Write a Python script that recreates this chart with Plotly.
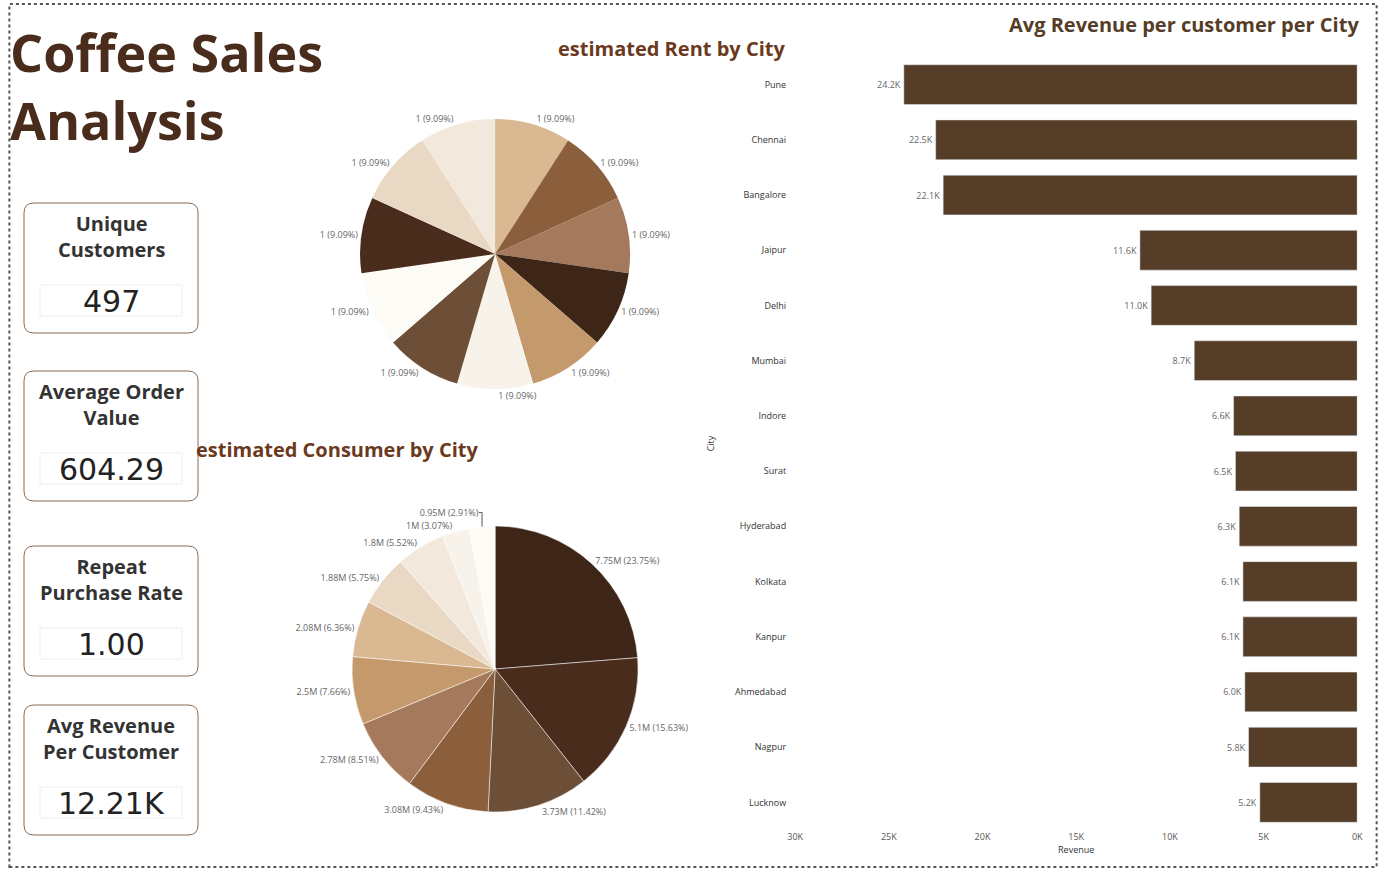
import plotly.graph_objects as go

# data
rent_labels = [f"City {i}" for i in range(1, 12)]
rent_values = [1] * 11
rent_colors = ["#D9B892", "#8B5E3C", "#A57A5C", "#3D2518", "#C49A6C", "#F7F2EA",
               "#6D4E36", "#FDFBF5", "#4A2C1D", "#E8D8C4", "#F2E8DC"]

consumer_values = [7.75, 5.1, 3.73, 3.08, 2.78, 2.5, 2.08, 1.88, 1.8, 1.0, 0.95]
consumer_text = ["7.75M (23.75%)", "5.1M (15.63%)", "3.73M (11.42%)", "3.08M (9.43%)",
                 "2.78M (8.51%)", "2.5M (7.66%)", "2.08M (6.36%)", "1.88M (5.75%)",
                 "1.8M (5.52%)", "1M (3.07%)", "0.95M (2.91%)"]
consumer_colors = ["#3D2518", "#4A2C1D", "#6D4E36", "#8B5E3C", "#A57A5C", "#C49A6C",
                   "#D9B892", "#E8D8C4", "#F2E8DC", "#F7F2EA", "#FDFBF5"]

cities = ["Pune", "Chennai", "Bangalore", "Jaipur", "Delhi", "Mumbai", "Indore", "Surat",
          "Hyderabad", "Kolkata", "Kanpur", "Ahmedabad", "Nagpur", "Lucknow"]
revenue = [24200, 22500, 22100, 11600, 11000, 8700, 6600, 6500, 6300, 6100, 6100, 6000, 5800, 5200]
revenue_text = ["24.2K", "22.5K", "22.1K", "11.6K", "11.0K", "8.7K", "6.6K", "6.5K",
                "6.3K", "6.1K", "6.1K", "6.0K", "5.8K", "5.2K"]

kpi_titles = ["Unique<br>Customers", "Average Order<br>Value", "Repeat<br>Purchase Rate",
              "Avg Revenue<br>Per Customer"]
kpi_values = ["497", "604.29", "1.00", "12.21K"]

W, H = 1384, 871
BROWN = "#553D27"


def px(x):
    # the page renders the paper slightly narrower and shifted; compensate
    return min(max((x - 8) / 0.9897 / W, 0.0), 1.0)


def py(y):
    return 1 - y / H


fig = go.Figure()

fig.add_trace(go.Pie(
    values=rent_values, labels=rent_labels, sort=False, direction="clockwise", rotation=0,
    marker=dict(colors=rent_colors), texttemplate="1 (9.09%)", textposition="outside",
    textfont=dict(size=9, color="#666666"), showlegend=False,
    domain=dict(x=[px(360), px(630)], y=[py(389), py(119)]),
))

fig.add_trace(go.Pie(
    values=consumer_values, labels=consumer_text, sort=False, direction="clockwise", rotation=0,
    marker=dict(colors=consumer_colors, line=dict(color="white", width=0.5)),
    text=consumer_text, texttemplate="%{text}", textposition="outside",
    textfont=dict(size=9, color="#666666"), showlegend=False,
    domain=dict(x=[px(352), px(638)], y=[py(812), py(526)]),
))

fig.add_trace(go.Bar(
    x=revenue, y=cities, orientation="h", marker_color=BROWN,
    text=revenue_text, textposition="outside", textfont=dict(size=9, color="#666666"),
    cliponaxis=False, width=0.72, showlegend=False,
))

fig.update_layout(
    width=W, height=H, margin=dict(l=0, r=0, t=0, b=0),
    paper_bgcolor="white", plot_bgcolor="white",
    font=dict(family="Open Sans", color="#333333"),
    xaxis=dict(domain=[px(795), px(1357)], range=[30000, 0], tickvals=[30000, 25000, 20000, 15000, 10000, 5000, 0],
               ticktext=["30K", "25K", "20K", "15K", "10K", "5K", "0K"], tickfont=dict(size=9, color="#555555"),
               showgrid=False, zeroline=False, title=dict(text="Revenue", font=dict(size=9, color="#333333"), standoff=4)),
    yaxis=dict(domain=[py(830), py(57)], autorange="reversed", showgrid=False,
               tickfont=dict(size=9, color="#333333"), ticklabelstandoff=8,
               title=dict(text="City", font=dict(size=9, color="#333333"), standoff=18)),
)

# dotted border
fig.add_shape(type="rect", xref="paper", yref="paper", x0=0.001, x1=0.999, y0=py(867), y1=py(4),
              line=dict(color="#555555", width=2, dash="dot"))

fig.add_annotation(text="<b>Coffee Sales<br>Analysis</b>", x=px(6), y=py(14), xref="paper", yref="paper",
                   xanchor="left", yanchor="top", showarrow=False, align="left",
                   font=dict(size=52, color="#4A2C1D", family="Open Sans"))
for txt, x, y in [("estimated Rent by City", 787, 48), ("estimated Consumer by City", 480, 450),
                  ("Avg Revenue per customer per City", 1361, 24)]:
    fig.add_annotation(text=f"<b>{txt}</b>", x=px(x), y=py(y), xref="paper", yref="paper",
                       xanchor="right", yanchor="middle", showarrow=False,
                       font=dict(size=20, color="#6B3A1E" if "Avg" not in txt else BROWN, family="Open Sans"))

# KPI cards
card_tops = [203, 371, 546, 705]
for title, val, top in zip(kpi_titles, kpi_values, card_tops):
    x0, x1, y0, y1, r = 24, 198, top, top + 130, 10
    path = (f"M {px(x0 + r)} {py(y0)} L {px(x1 - r)} {py(y0)} Q {px(x1)} {py(y0)} {px(x1)} {py(y0 + r)} "
            f"L {px(x1)} {py(y1 - r)} Q {px(x1)} {py(y1)} {px(x1 - r)} {py(y1)} "
            f"L {px(x0 + r)} {py(y1)} Q {px(x0)} {py(y1)} {px(x0)} {py(y1 - r)} "
            f"L {px(x0)} {py(y0 + r)} Q {px(x0)} {py(y0)} {px(x0 + r)} {py(y0)} Z")
    fig.add_shape(type="path", path=path, xref="paper", yref="paper", line=dict(color="#8B6A50", width=1))
    fig.add_shape(type="rect", xref="paper", yref="paper", x0=px(40), x1=px(182), y0=py(top + 113), y1=py(top + 82),
                  line=dict(color="#EEEEEE", width=1))
    fig.add_annotation(text=f"<b>{title}</b>", x=px(111), y=py(top + 33), xref="paper", yref="paper",
                       xanchor="center", yanchor="middle", showarrow=False,
                       font=dict(size=20, color="#333333", family="Open Sans"))
    fig.add_annotation(text=val, x=px(111), y=py(top + 98), xref="paper", yref="paper",
                       xanchor="center", yanchor="middle", showarrow=False,
                       font=dict(size=30, color="#222222", family="DejaVu Sans"))

fig.write_html("out.html", config={"responsive": False, "displayModeBar": False},
               post_script="document.body.style.margin='0';document.body.style.overflow='hidden';")
